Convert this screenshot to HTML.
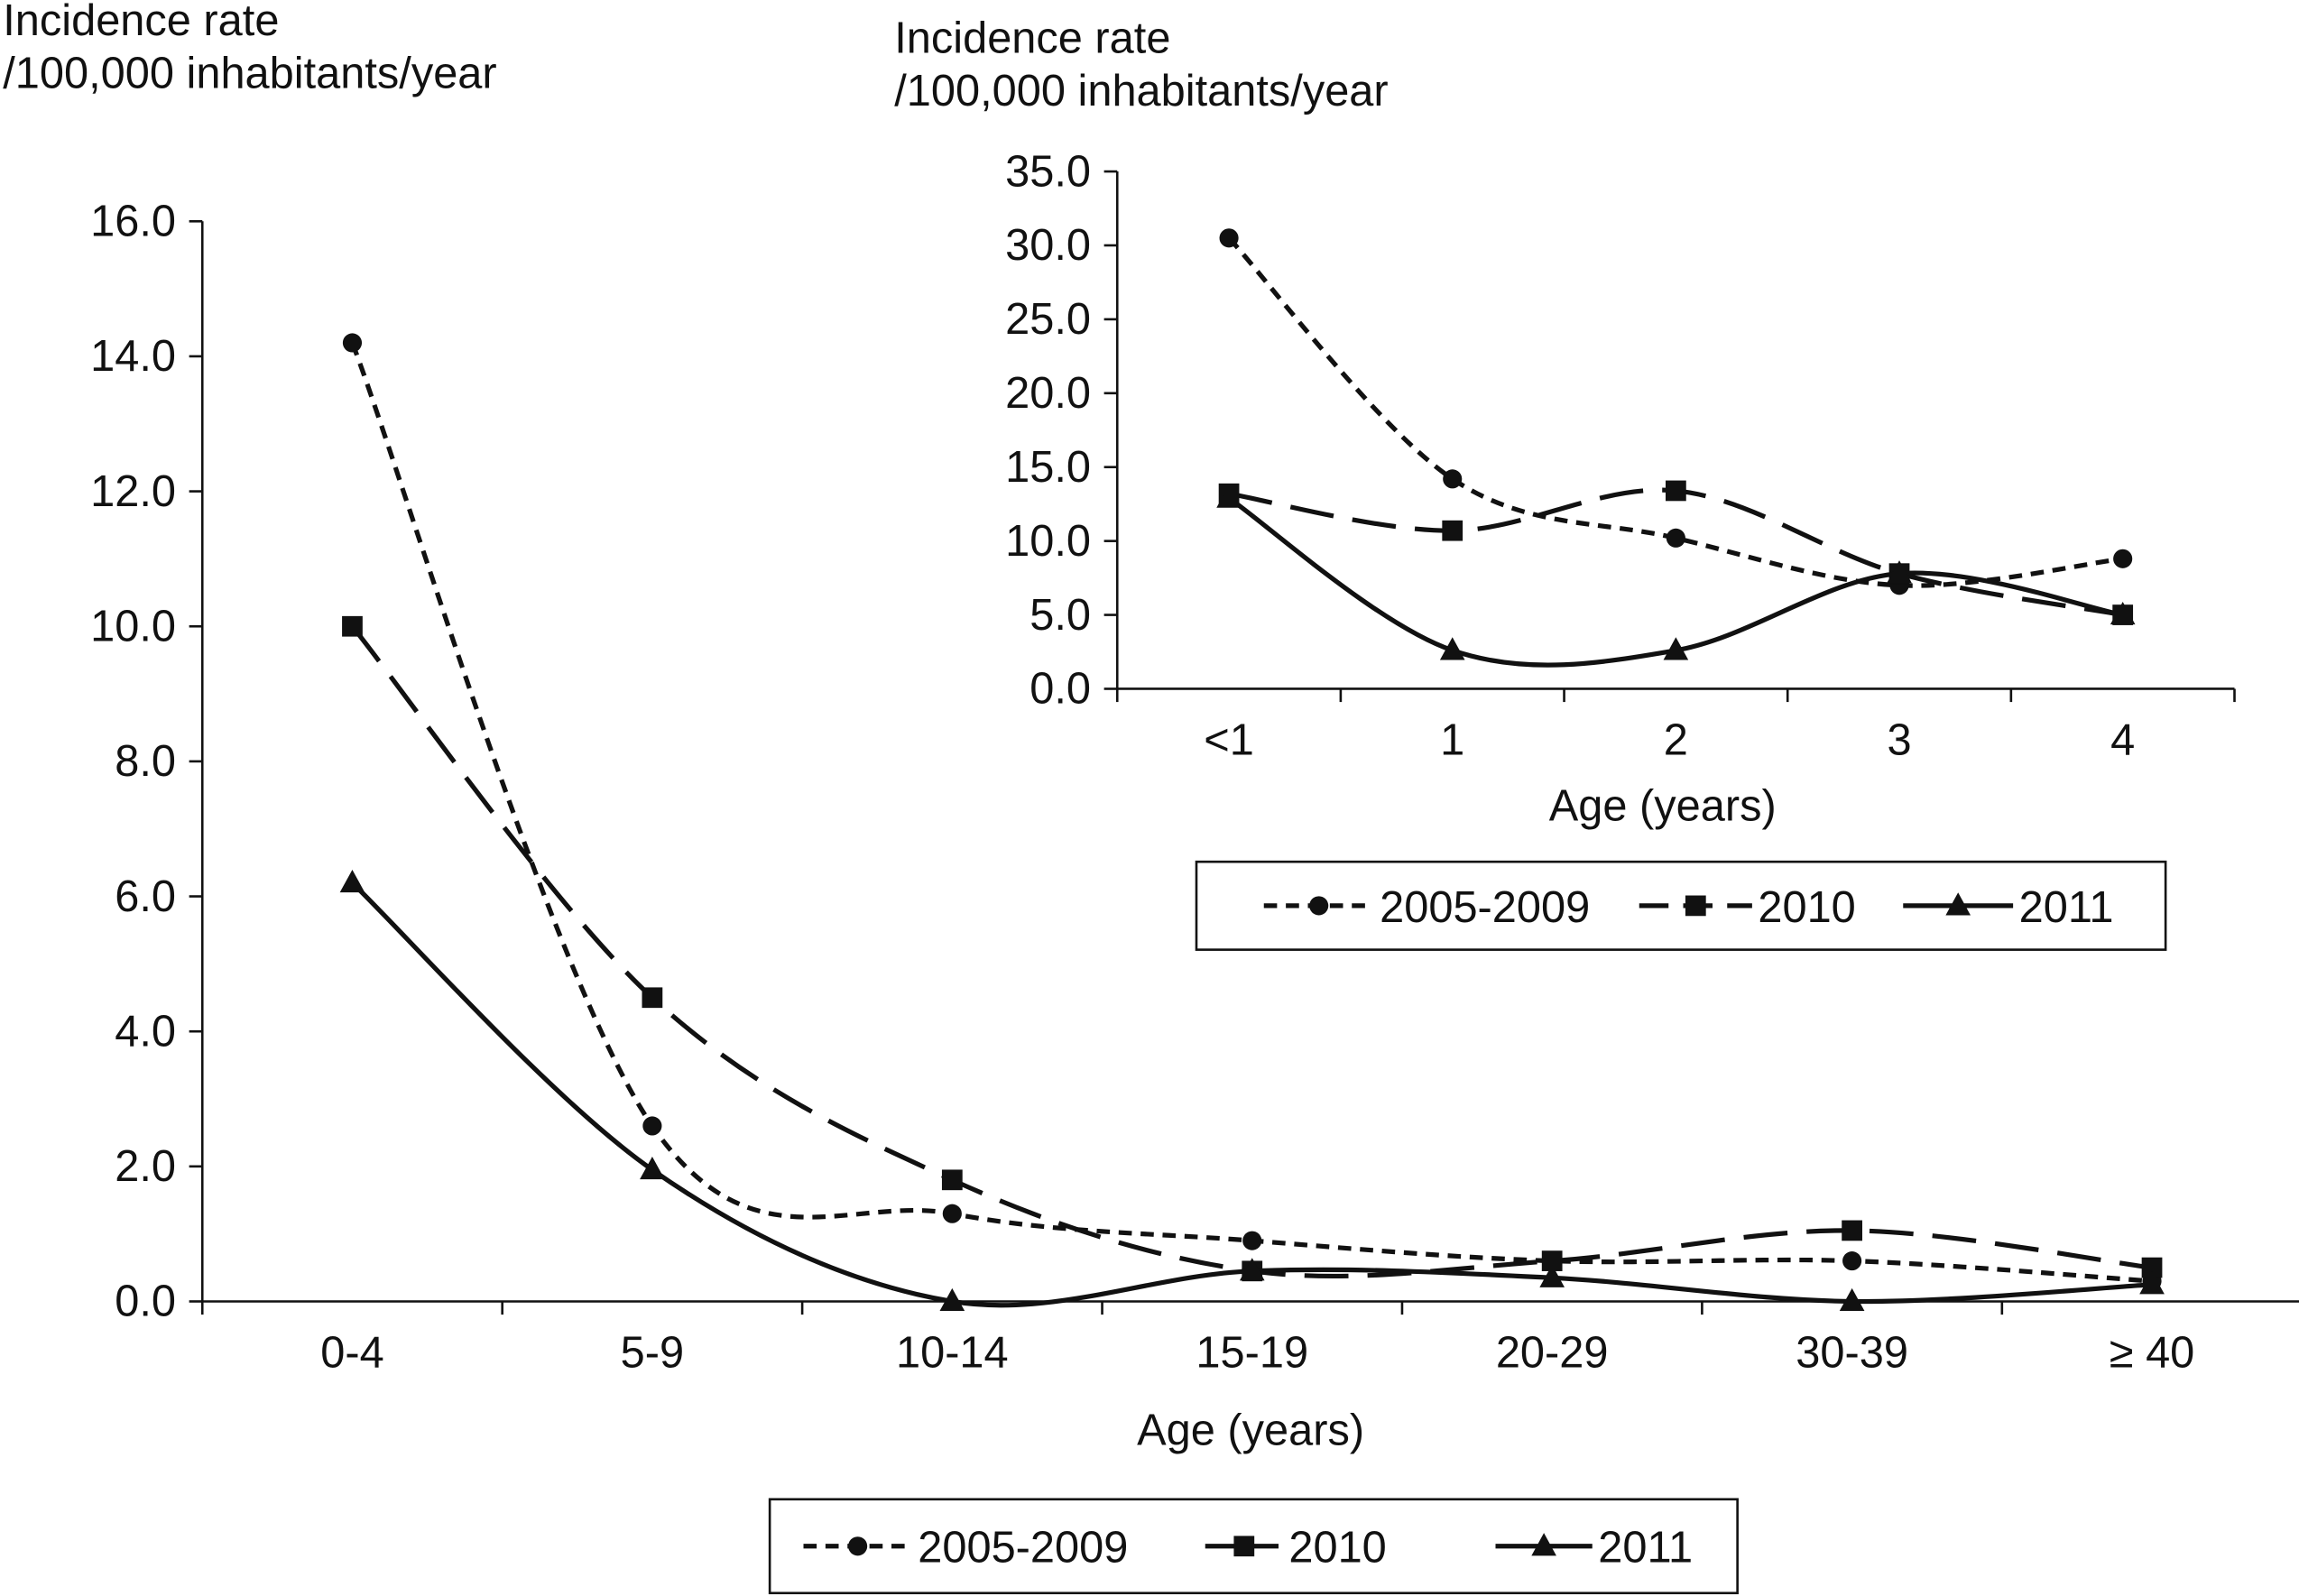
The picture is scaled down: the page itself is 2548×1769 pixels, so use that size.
<!DOCTYPE html>
<html><head><meta charset="utf-8">
<style>
html,body{margin:0;padding:0;background:#fff;}
svg{display:block;font-family:"Liberation Sans",sans-serif;}
</style></head>
<body>
<svg id="chart" width="2548" height="1769" viewBox="0 0 1568 1089" preserveAspectRatio="none" xmlns="http://www.w3.org/2000/svg">
<rect width="1568" height="1089" fill="#fff"/>
</svg>
<script>
// Main chart data
const mainCategories = ["0-4","5-9","10-14","15-19","20-29","30-39","\u2265 40"];
const mainSeriesA = [14.2, 2.6, 1.3, 0.9, 0.6, 0.6, 0.3];   // 2005-2009
const mainSeriesB = [10.0, 4.5, 1.8, 0.45, 0.6, 1.05, 0.5]; // 2010
const mainSeriesC = [6.2, 1.95, 0.0, 0.45, 0.35, 0.0, 0.25]; // 2011
const mainTicks = [0,2,4,6,8,10,12,14,16];
// Inset chart data
const insetCategories = ["<1","1","2","3","4"];
const insetSeriesA = [30.5, 14.2, 10.2, 7.0, 8.8];
const insetSeriesB = [13.2, 10.7, 13.4, 7.8, 5.0];
const insetSeriesC = [12.9, 2.6, 2.6, 7.8, 5.0];
const insetTicks = [0,5,10,15,20,25,30,35];
const seriesNames = ["2005-2009","2010","2011"];

const svg = document.getElementById('chart');
const NS = 'http://www.w3.org/2000/svg';
function mk(tag, attrs, parent){
  const e = document.createElementNS(NS, tag);
  for (const k in attrs) e.setAttribute(k, attrs[k]);
  (parent||svg).appendChild(e);
  return e;
}
function txt(x,y,s,size,anchor,parent){
  const t = mk('text',{x:x,y:y,'font-size':size,'text-anchor':anchor||'start',fill:'#111'},parent);
  t.textContent = s; return t;
}
const styles = [
  {dash:'9,6', legDash:'9,6', marker:'circle'},
  {dash:'30,13', legDash:'20,10', marker:'square'},
  {dash:'none', legDash:'none', marker:'triangle'}
];
function spline(pts){
  let d = 'M'+pts[0][0]+','+pts[0][1];
  for (let i=0;i<pts.length-1;i++){
    const p0=pts[i-1]||pts[i], p1=pts[i], p2=pts[i+1], p3=pts[i+2]||p2;
    const c1=[p1[0]+(p2[0]-p0[0])/6, p1[1]+(p2[1]-p0[1])/6];
    const c2=[p2[0]-(p3[0]-p1[0])/6, p2[1]-(p3[1]-p1[1])/6];
    d += ' C'+c1[0]+','+c1[1]+' '+c2[0]+','+c2[1]+' '+p2[0]+','+p2[1];
  }
  return d;
}
function marker(type,x,y,s,parent){
  if(type==='circle') return mk('circle',{cx:x,cy:y,r:6.5*s,fill:'#111'},parent);
  if(type==='square') return mk('rect',{x:x-7*s,y:y-7*s,width:14*s,height:14*s,fill:'#111'},parent);
  return mk('polygon',{points:(x)+','+(y-9*s)+' '+(x+8.5*s)+','+(y+6.5*s)+' '+(x-8.5*s)+','+(y+6.5*s),fill:'#111'},parent);
}
function drawChart(cfg){
  const g = mk('g',{});
  
  
  const n = cfg.cats.length, band = (cfg.x1-cfg.x0)/n;
  const xS = i => cfg.x0 + band*(i+0.5);
  const yS = v => cfg.yBot - (v/cfg.yMax)*(cfg.yBot-cfg.yTop);
  const ya = mk('line',{x1:cfg.x0,y1:cfg.yTop,x2:cfg.x0,y2:cfg.yBot,stroke:'#111','stroke-width':1.6},g);
   
  cfg.ticks.forEach(t=>{
    const y=yS(t);
    mk('line',{x1:cfg.x0-9,y1:y,x2:cfg.x0,y2:y,stroke:'#111','stroke-width':1.6},g);
    const l=txt(cfg.x0-18,y+10,t.toFixed(1),cfg.fs,'end',g);
     
  });
  const xa = mk('line',{x1:cfg.x0,y1:cfg.yBot,x2:cfg.x1,y2:cfg.yBot,stroke:'#111','stroke-width':1.6},g);
   
  for(let i=0;i<=n;i++){
    const x=cfg.x0+band*i;
    mk('line',{x1:x,y1:cfg.yBot,x2:x,y2:cfg.yBot+9,stroke:'#111','stroke-width':1.6},g);
  }
  cfg.cats.forEach((c,i)=>{
    const l=txt(xS(i),cfg.yBot+45,c,cfg.fs,'middle',g);
     
  });
  const xt=txt(cfg.xtX,cfg.yBot+cfg.xtDy,'Age (years)',cfg.fs,'middle',g);
   
  const t1=txt(cfg.tx,cfg.ty,'Incidence rate',cfg.fs,'start',g);
   
  const t2=txt(cfg.tx,cfg.ty+36,'/100,000 inhabitants/year',cfg.fs,'start',g);
   
  cfg.series.forEach((vals,si)=>{
    const pts = vals.map((v,i)=>[xS(i),yS(v)]);
    const p = mk('path',{d:spline(pts),fill:'none',stroke:'#111','stroke-width':3.2,'stroke-dasharray':styles[si].dash},g);
    
    
    pts.forEach(pt=>{
      const m=marker(styles[si].marker,pt[0],pt[1],1,g);
      
      
    });
  });
  const L=cfg.leg;
  const lg=mk('g',{},g);
   
  mk('rect',{x:L.x,y:L.y,width:L.w,height:L.h,fill:'#fff',stroke:'#111','stroke-width':1.6},lg);
  const cy=L.y+L.h/2;
  L.items.forEach((it,si)=>{
    const e=mk('g',{},lg);
     
    mk('line',{x1:it.x,y1:cy,x2:it.x2,y2:cy,stroke:'#111','stroke-width':3.2,'stroke-dasharray':styles[si].legDash},e);
    marker(styles[si].marker,(it.x+it.x2)/2,cy,1,e);
    txt(it.x2+4,cy+11,seriesNames[si],cfg.fs,'start',e);
  });
}
drawChart({name:'main-chart',cats:mainCategories,series:[mainSeriesA,mainSeriesB,mainSeriesC],ticks:mainTicks,
  x0:138,x1:1570,yTop:151,yBot:888,yMax:16,fs:30,tx:2,ty:24,xtX:853,xtDy:98,
  leg:{x:525,y:1023,w:660,h:64,items:[{x:548,x2:622},{x:822,x2:875},{x:1020,x2:1086}]}});
drawChart({name:'inset-chart',cats:insetCategories,series:[insetSeriesA,insetSeriesB,insetSeriesC],ticks:insetTicks,
  x0:762,x1:1524,yTop:117,yBot:470,yMax:35,fs:30,tx:610,ty:36,xtX:1134,xtDy:90,
  leg:{x:816,y:588,w:661,h:60,items:[{x:862,x2:937},{x:1118,x2:1195},{x:1298,x2:1373}]}});
</script>
</body></html>
